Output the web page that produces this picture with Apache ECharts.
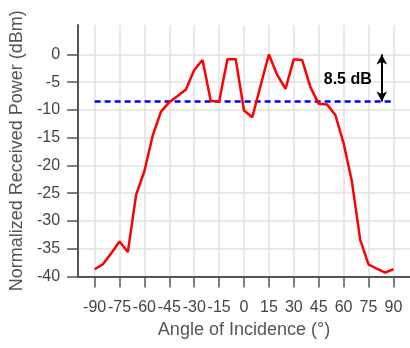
<!DOCTYPE html>
<html>
<head>
<meta charset="utf-8">
<script src="https://cdn.jsdelivr.net/npm/echarts@6/dist/echarts.min.js"></script>
<style>
html, body { margin: 0; padding: 0; background: #fff; }
#main { width: 410px; height: 348px; }
</style>
</head>
<body>
<div id="main"></div>
<script>
// angle of incidence (deg) and received power (dB)
var angles = [-90,-85,-80,-75,-70,-65,-60,-55,-50,-45,-40,-35,-30,-25,-20,-15,-10,-5,0,5,10,15,20,25,30,35,40,45,50,55,60,65,70,75,80,85,90];
var power = [-38.7,-37.8,-35.8,-33.7,-35.6,-25.3,-21.0,-14.6,-10.3,-8.6,-7.5,-6.3,-2.8,-1.0,-8.4,-8.5,-0.85,-0.85,-10.1,-11.3,-5.6,0.0,-3.7,-6.2,-0.85,-1.0,-5.9,-8.9,-9.0,-10.9,-16.0,-22.9,-33.4,-37.8,-38.6,-39.3,-38.7];
var xTicks = [-90,-75,-60,-45,-30,-15,0,15,30,45,60,75,90];
var yTicks = [-40,-35,-30,-25,-20,-15,-10,-5,0];
var refLevel = -8.5;   // dashed reference
var arrowAngle = 83;   // where the 8.5 dB arrow sits

var chart = echarts.init(document.getElementById('main'));

var lineData = [];
for (var i = 0; i < angles.length; i++) {
    lineData.push([angles[i], power[i]]);
}

var fontFam = '"Liberation Sans", Arial, sans-serif';

var option = {
    animation: false,
    grid: { left: 70.5, top: 25, width: 341.5, height: 251.5 },
    xAxis: {
        type: 'value',
        min: -100,
        max: 100,
        name: 'Angle of Incidence (°)',
        nameLocation: 'middle',
        nameGap: 45,
        nameTextStyle: { color: '#555', fontSize: 18, fontFamily: fontFam },
        axisLine: { show: true, onZero: false, lineStyle: { color: '#555', width: 2 } },
        axisTick: { show: true, length: 11, customValues: xTicks, lineStyle: { color: '#555', width: 1.5 } },
        axisLabel: { customValues: xTicks, color: '#444', fontSize: 16, fontFamily: fontFam, margin: 23 },
        splitLine: { show: true, lineStyle: { color: '#e2e2e2', width: 1.5 } }
    },
    yAxis: {
        type: 'value',
        min: -40,
        max: 5.3,
        name: 'Normalized Received Power (dBm)',
        nameLocation: 'middle',
        nameGap: 44,
        nameTextStyle: { color: '#555', fontSize: 18, fontFamily: fontFam },
        axisLine: { show: true, onZero: false, lineStyle: { color: '#555', width: 2 } },
        axisTick: { show: true, length: 11, customValues: yTicks, lineStyle: { color: '#555', width: 1.5 } },
        axisLabel: { customValues: yTicks, color: '#444', fontSize: 16, fontFamily: fontFam, margin: 18 },
        splitLine: { show: true, lineStyle: { color: '#e2e2e2', width: 1.5 } }
    },
    series: [
        {
            type: 'line',
            data: [[-90, refLevel], [90, refLevel]],
            symbol: 'none',
            lineStyle: { color: '#0000ff', width: 2.5, type: [6, 4] },
            z: 2
        },
        {
            type: 'line',
            data: lineData,
            symbol: 'none',
            lineStyle: { color: '#ff0000', width: 2.5 },
            z: 3,
            markLine: {
                silent: true,
                symbol: ['arrow', 'arrow'],
                symbolSize: [8, 10],
                label: { show: false },
                lineStyle: { color: '#000', width: 2, type: 'solid' },
                data: [[{ coord: [arrowAngle, 0] }, { coord: [arrowAngle, refLevel] }]]
            },
            markPoint: {
                silent: true,
                symbol: 'circle',
                symbolSize: 0,
                label: {
                    show: true,
                    position: 'inside',
                    formatter: '8.5 dB',
                    color: '#000',
                    fontSize: 16,
                    fontWeight: 'bold',
                    fontFamily: fontFam
                },
                data: [{ coord: [62.5, -4.6] }]
            }
        }
    ]
};
chart.setOption(option);
</script>
</body>
</html>
